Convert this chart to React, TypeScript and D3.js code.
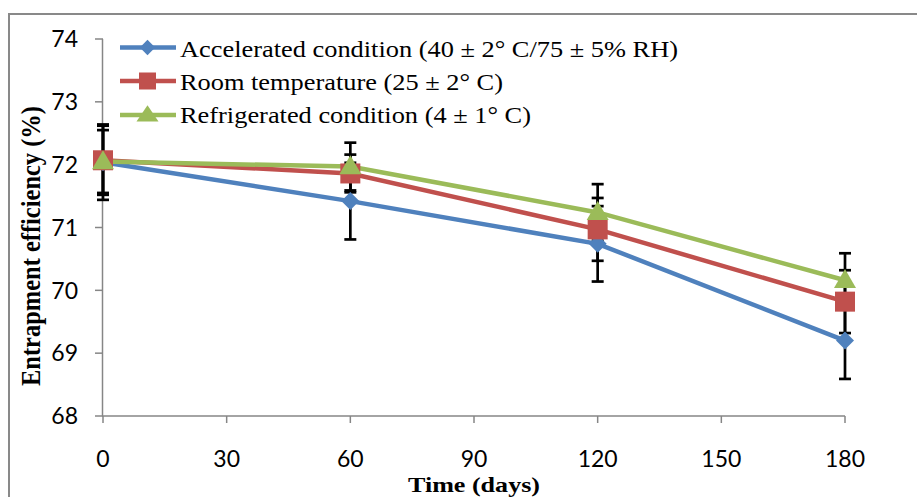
import React from "react";
import * as d3 from "d3";

const days = [0, 60, 120, 180];
const seriesNames = [
  "Accelerated condition (40 ± 2° C/75 ± 5% RH)",
  "Room temperature (25 ± 2° C)",
  "Refrigerated condition (4 ± 1° C)",
];
const accelerated = [72.04, 71.42, 70.74, 69.2];
const acceleratedErr = [0.6, 0.61, 0.6, 0.61];
const room = [72.07, 71.86, 70.97, 69.82];
const roomErr = [0.55, 0.3, 0.5, 0.5];
const refrigerated = [72.05, 71.97, 71.24, 70.16];
const refrigeratedErr = [0.5, 0.38, 0.45, 0.43];
const xTicks = [0, 30, 60, 90, 120, 150, 180];
const yTicks = [68, 69, 70, 71, 72, 73, 74];
const colors = ["#4F81BD", "#C0504D", "#9BBB59"];
const markers = ["diamond", "square", "triangle"];

const W = 917;
const H = 497;

function Marker({ kind, x, y, color, k }: { kind: string; x: number; y: number; color: string; k: number }) {
  if (kind === "diamond") {
    const s = 9 * k;
    return <path d={`M${x},${y - s}L${x + s},${y}L${x},${y + s}L${x - s},${y}Z`} fill={color} />;
  }
  if (kind === "square") {
    const s = 10 * k;
    return <rect x={x - s} y={y - s} width={2 * s} height={2 * s} fill={color} />;
  }
  const w = 11;
  const h = 19 * k;
  return <path d={`M${x},${y - h * 0.6}L${x + w},${y + h * 0.4}L${x - w},${y + h * 0.4}Z`} fill={color} />;
}

export default function App() {
  const x = d3.scaleLinear().domain([0, 180]).range([103, 845]);
  const y = d3.scaleLinear().domain([68, 74]).range([416, 39]);
  const data = [accelerated, room, refrigerated];
  const errs = [acceleratedErr, roomErr, refrigeratedErr];
  const line = d3
    .line<number>()
    .x((_, i) => x(days[i]))
    .y((d) => y(d));
  const axisColor = "#868686";
  const tickFont = "Lato, 'Open Sans', sans-serif";
  const serif = "'Liberation Serif', 'Times New Roman', serif";
  const legendY = [47.5, 81, 115];
  const legendBase = [57, 90, 123];
  const legendW = [498, 323, 351];

  return (
    <svg width={W} height={H} style={{ position: "absolute", left: 0, top: 0 }}>
      <rect x={0} y={0} width={W} height={H} fill="#fff" />
      <path d={`M9,${H}V14H${W}`} fill="none" stroke="#898989" strokeWidth={2} />
      {/* axes */}
      <line x1={102.5} x2={102.5} y1={y(74)} y2={y(68)} stroke={axisColor} strokeWidth={1.5} />
      {yTicks.map((t) => (
        <g key={t}>
          <line x1={95} x2={103} y1={y(t)} y2={y(t)} stroke={axisColor} strokeWidth={1.5} />
          <text x={78} y={y(t)} dy="0.36em" textAnchor="end" fontFamily={tickFont} fontSize={23}>
            {t}
          </text>
        </g>
      ))}
      <line x1={102} x2={845} y1={y(68)} y2={y(68)} stroke={axisColor} strokeWidth={1.5} />
      {xTicks.map((t) => (
        <g key={t}>
          <line x1={x(t)} x2={x(t)} y1={y(68)} y2={y(68) + 7} stroke={axisColor} strokeWidth={1.5} />
          <text x={x(t)} y={459} dy="0.36em" textAnchor="middle" fontFamily={tickFont} fontSize={23}>
            {t}
          </text>
        </g>
      ))}
      <text
        x={408}
        y={492}
        fontFamily={serif}
        fontWeight="bold"
        fontSize={21}
        textLength={132}
        lengthAdjust="spacingAndGlyphs"
      >
        Time (days)
      </text>
      <text
        transform={`translate(40,${386}) scale(1.15,1) rotate(-90)`}
        fontFamily={serif}
        fontWeight="bold"
        fontSize={23.5}
        textLength={280}
        lengthAdjust="spacingAndGlyphs"
      >
        Entrapment efficiency (%)
      </text>
      {/* error bars */}
      {data.map((s, si) =>
        s.map((v, i) => {
          const cx = x(days[i]);
          const y1 = y(v + errs[si][i]);
          const y2 = y(v - errs[si][i]);
          return (
            <g key={`e${si}-${i}`} stroke="#000" strokeWidth={2.7}>
              <line x1={cx} x2={cx} y1={y1} y2={y2} />
              <line x1={cx - 6} x2={cx + 6} y1={y1} y2={y1} />
              <line x1={cx - 6} x2={cx + 6} y1={y2} y2={y2} />
            </g>
          );
        })
      )}
      {/* lines */}
      {data.map((s, si) => (
        <path key={`l${si}`} d={line(s) || ""} fill="none" stroke={colors[si]} strokeWidth={4.5} />
      ))}
      {data.map((s, si) =>
        s.map((v, i) => (
          <Marker key={`m${si}-${i}`} kind={markers[si]} x={x(days[i])} y={y(v)} color={colors[si]} k={1} />
        ))
      )}
      {/* legend */}
      {seriesNames.map((n, i) => (
        <g key={n}>
          <line x1={120} x2={176} y1={legendY[i]} y2={legendY[i]} stroke={colors[i]} strokeWidth={4.5} />
          <Marker kind={markers[i]} x={147.5} y={legendY[i]} color={colors[i]} k={0.85} />
          <text
            x={180}
            y={legendBase[i]}
            fontFamily={serif}
            fontSize={23.5}
            textLength={legendW[i]}
            lengthAdjust="spacingAndGlyphs"
          >
            {n}
          </text>
        </g>
      ))}
    </svg>
  );
}
